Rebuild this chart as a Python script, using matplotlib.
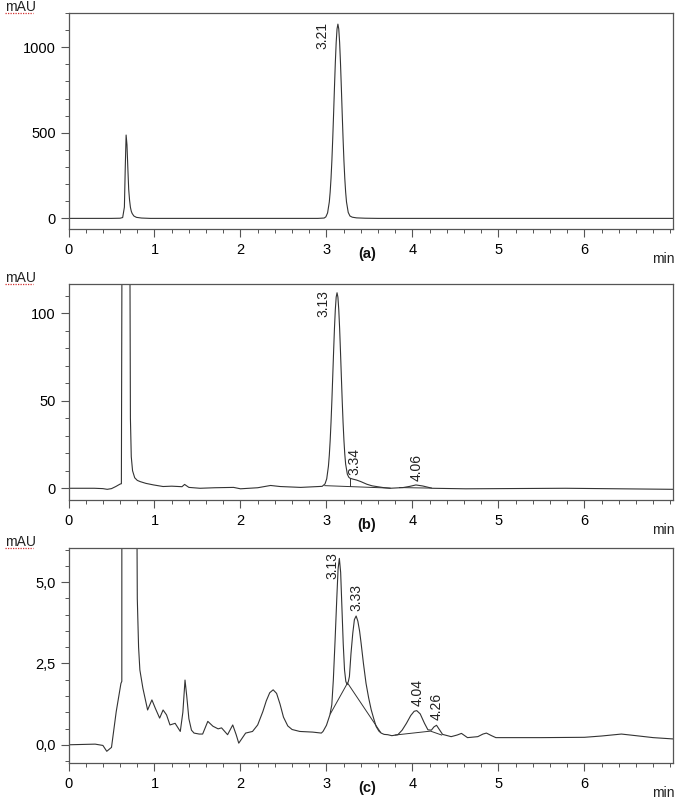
import matplotlib
matplotlib.use("Agg")
import matplotlib.pyplot as plt
from matplotlib.ticker import MultipleLocator, FixedLocator

plt.rcParams['font.family'] = ['Liberation Sans', 'DejaVu Sans']

# ---- trace (a): standard ----
time_a = [0.0, 0.5, 0.6, 0.63, 0.65, 0.66, 0.67, 0.68, 0.69, 0.70, 0.71, 0.72, 0.73,
          0.74, 0.76, 0.79, 0.85, 0.95,
          2.9, 2.973, 2.993, 3.013, 3.033, 3.043, 3.053, 3.063, 3.073, 3.083, 3.093,
          3.103, 3.113, 3.123, 3.133, 3.143, 3.153, 3.163, 3.173, 3.183, 3.193, 3.203,
          3.213, 3.223, 3.233, 3.253, 3.273, 3.30, 3.35, 3.45, 3.6, 7.03]
mau_a = [0, 0, 1, 5, 66, 295, 487, 430, 295, 170, 107, 65, 42,
         29, 14, 6, 2, 0,
         0, 2, 9, 32, 96, 154, 234, 338, 467, 612, 765,
         909, 1028, 1107, 1135, 1107, 1028, 909, 765, 612, 467, 338,
         234, 154, 96, 35, 14, 7, 3, 1, 0, 0]

# ---- trace (b) ----
time_b = [0.0, 0.3, 0.4, 0.45, 0.5, 0.55, 0.6, 0.615, 0.625, 0.67, 0.71, 0.715, 0.72,
          0.73, 0.745, 0.77, 0.80, 0.834, 0.90, 0.99, 1.1, 1.2, 1.32, 1.35, 1.4, 1.53,
          1.7, 1.92, 2.0, 2.2, 2.35, 2.46, 2.7, 2.95,
          2.983, 3.003, 3.023, 3.033, 3.043, 3.053, 3.063, 3.073, 3.083, 3.093, 3.103,
          3.113, 3.123, 3.133, 3.143, 3.153, 3.163, 3.173, 3.183, 3.193, 3.203, 3.213,
          3.223, 3.243, 3.26, 3.275, 3.31, 3.35, 3.40, 3.47, 3.53, 3.58, 3.66, 3.74,
          3.89, 3.97, 4.04, 4.12, 4.23, 4.62, 5.78, 7.03]
mau_b = [0, 0, -0.2, -0.6, -0.2, 1.0, 2.4, 2.6, 200, 900, 300, 120, 40,
         18, 10, 6, 4.5, 3.8, 2.8, 1.9, 1.0, 1.2, 0.9, 2.2, 0.5, 0.0,
         0.3, 0.5, -0.3, 0.3, 1.6, 1.0, 0.5, 1.1,
         2.5, 5.4, 12.7, 18.9, 27.2, 37.7, 50.1, 64.0, 78.1, 91.4, 102.1,
         109.2, 111.7, 109.2, 102.1, 91.4, 78.1, 64.0, 50.1, 37.7, 27.5, 19.5,
         13.8, 8.0, 6.3, 5.7, 5.2, 4.7, 3.8, 2.3, 1.4, 1.0, 0.4, 0.0,
         0.4, 1.1, 1.9, 1.3, 0.0, -0.3, 0.0, -0.6]

# ---- trace (c) ----
time_c = [0.0, 0.31, 0.40, 0.445, 0.50, 0.555, 0.61, 0.62, 0.625, 0.70, 0.79, 0.80,
          0.815, 0.83, 0.865, 0.92, 0.97, 1.01, 1.06, 1.10, 1.14, 1.18, 1.24, 1.30,
          1.33, 1.355, 1.375, 1.40, 1.43, 1.46, 1.52, 1.56, 1.62, 1.68, 1.74, 1.78,
          1.85, 1.91, 1.95, 1.98, 2.06, 2.14, 2.20, 2.26, 2.30, 2.34, 2.38, 2.42,
          2.46, 2.50, 2.55, 2.60, 2.69, 2.84, 2.94, 2.96, 3.00, 3.04, 3.062, 3.08,
          3.10, 3.12, 3.135, 3.15, 3.165, 3.18, 3.195, 3.21, 3.225, 3.24, 3.255, 3.267,
          3.285, 3.306, 3.325, 3.345, 3.365, 3.385, 3.403, 3.43, 3.46, 3.49, 3.52, 3.55,
          3.578, 3.61, 3.636, 3.67, 3.713, 3.76, 3.83, 3.88, 3.93, 3.98, 4.02, 4.05,
          4.09, 4.14, 4.18, 4.22, 4.25, 4.28, 4.31, 4.35, 4.45, 4.52, 4.57, 4.64,
          4.76, 4.82, 4.86, 4.92, 4.97, 5.5, 6.0, 6.2, 6.43, 6.6, 6.8, 7.03]
mau_c = [0.0, 0.02, -0.02, -0.2, -0.08, 1.02, 1.89, 1.95, 60, 200, 10, 4.5,
         3.0, 2.3, 1.74, 1.07, 1.38, 1.12, 0.82, 1.07, 0.92, 0.61, 0.66, 0.41,
         1.0, 1.99, 1.5, 0.8, 0.45, 0.36, 0.33, 0.33, 0.72, 0.57, 0.49, 0.52,
         0.31, 0.61, 0.31, 0.05, 0.36, 0.41, 0.61, 1.02, 1.35, 1.6, 1.69, 1.58,
         1.25, 0.85, 0.58, 0.47, 0.41, 0.39, 0.36, 0.41, 0.6, 0.92, 1.23, 2.0,
         3.2, 4.5, 5.4, 5.73, 5.3, 4.2, 3.1, 2.3, 1.95, 1.85, 1.95, 2.1,
         2.8, 3.43, 3.85, 3.96, 3.8, 3.5, 3.12, 2.5, 1.89, 1.45, 1.08, 0.8,
         0.56, 0.42, 0.36, 0.32, 0.31, 0.28, 0.31, 0.45, 0.66, 0.9, 1.03, 1.05,
         0.95, 0.66, 0.46, 0.45, 0.55, 0.6, 0.48, 0.32, 0.25, 0.3, 0.35, 0.22,
         0.25, 0.33, 0.36, 0.28, 0.22, 0.22, 0.23, 0.27, 0.33, 0.28, 0.22, 0.18]

# integration baselines drawn by the software
base_b = [([2.98, 3.74], [1.5, 0.1]), ([3.275, 3.275], [1.1, 5.7]), ([3.85, 4.22], [0.4, 0.1])]
base_c = [([3.045, 3.245, 3.63], [0.95, 1.9, 0.38]), ([3.80, 4.21, 4.34], [0.30, 0.42, 0.30])]

# peak labels (text, label x, label y)
labels_a = [("3.21", 2.95, 1066)]
labels_b = [("3.13", 2.96, 105.3), ("3.34", 3.33, 15.3), ("4.06", 4.05, 11.9)]
labels_c = [("3.13", 3.07, 5.5), ("3.33", 3.35, 4.52), ("4.04", 4.06, 1.61), ("4.26", 4.28, 1.18)]

W, H = 678, 800
fig = plt.figure(figsize=(W / 100, H / 100), dpi=100)

panels = [
    # (top px, bottom px, time, mau, ylim, major, minor, ticklabels, baselines, labels, tag)
    (13, 229, time_a, mau_a, (-62, 1200), [0, 500, 1000], 100, ["0", "500", "1000"], [], labels_a, "(a)"),
    (284, 500, time_b, mau_b, (-6.7, 116.7), [0, 50, 100], 10, ["0", "50", "100"], base_b, labels_b, "(b)"),
    (548, 763, time_c, mau_c, (-0.56, 6.05), [0, 2.5, 5.0], 0.5, ["0,0", "2,5", "5,0"], base_c, labels_c, "(c)"),
]

gray = "#555555"
trace = "#333333"

for top, bottom, t, y, ylim, major, minor, ylabels, bases, labels, tag in panels:
    ax = fig.add_axes([68.5 / W, 1 - bottom / H, (673 - 68.5) / W, (bottom - top) / H])
    ax.plot(t, y, color=trace, lw=0.8)
    for bx, by in bases:
        ax.plot(bx, by, color=trace, lw=0.7)
    for txt, lx, ly in labels:
        ax.text(lx, ly, txt, rotation=90, ha="center", va="center", fontsize=10, color="#222222")
    ax.set_xlim(0, 7.03)
    ax.set_ylim(*ylim)
    ax.xaxis.set_major_locator(FixedLocator([0, 1, 2, 3, 4, 5, 6]))
    ax.xaxis.set_minor_locator(MultipleLocator(0.2))
    ax.yaxis.set_major_locator(FixedLocator(major))
    ax.yaxis.set_minor_locator(MultipleLocator(minor))
    ax.set_yticklabels(ylabels)
    ax.tick_params(which="major", length=6, width=0.8, color=gray, labelsize=10.5, pad=3)
    ax.tick_params(which="minor", length=3, width=0.7, color=gray)
    ax.tick_params(axis="x", which="major", pad=4)
    for s in ax.spines.values():
        s.set_color(gray)
        s.set_linewidth(0.9)

    # "mAU" with red spell-check underline, "min", and panel tag
    fig.text(5 / W, 1 - (top - 6) / H, "mAU", fontsize=10, ha="left", va="center", color="#222222")
    fig.add_artist(plt.Line2D([5 / W, 33 / W], [1 - top / H, 1 - top / H],
                              color="#d23030", lw=0.9, ls=(0, (1, 1))))
    fig.text(663 / W, 1 - (bottom + 30) / H, "min", fontsize=10, ha="center", va="center", color="#222222")
    fig.text(367 / W, 1 - (bottom + 25) / H, tag, fontsize=10.5, fontweight="bold",
             ha="center", va="center", color="#111111")

fig.savefig("out.png", dpi=100, facecolor="white")
